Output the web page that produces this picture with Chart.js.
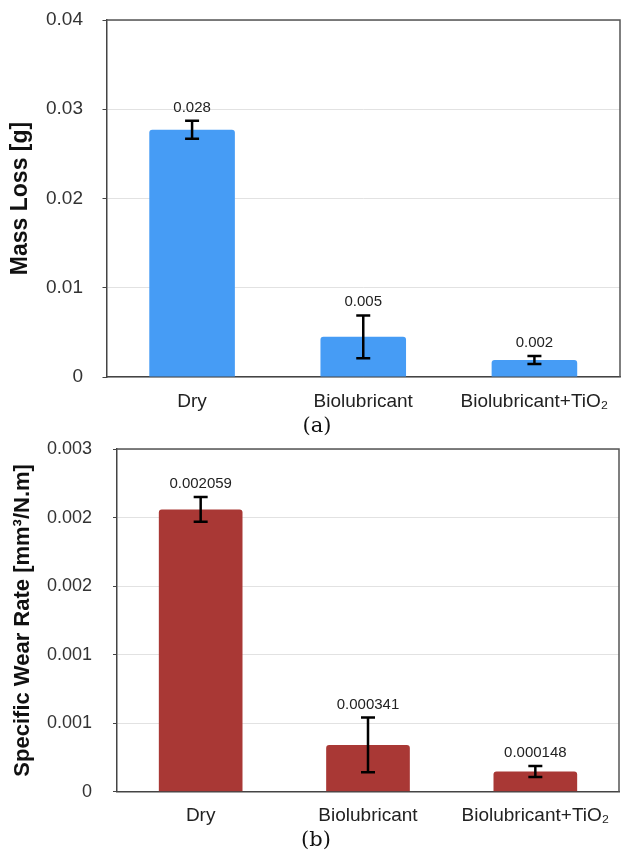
<!DOCTYPE html>
<html>
<head>
<meta charset="utf-8">
<script src="https://cdn.jsdelivr.net/npm/chart.js@4.4.0/dist/chart.umd.min.js"></script>
<style>
  html, body { margin: 0; padding: 0; background: #fff; }
  #page { position: relative; width: 622px; height: 853px; overflow: hidden; }
  .box { position: absolute; left: 0; width: 622px; height: 420px; }
  #boxA { top: 0; }
  #boxB { top: 430px; }
  .cap { position: absolute; font-family: 'DejaVu Serif', serif; font-size: 21px; color: #111; transform: translate(-50%, -50%); }
</style>
</head>
<body>
<div id="page">
  <div class="box" id="boxA"><canvas id="chartA" width="622" height="420"></canvas></div>
  <div class="box" id="boxB"><canvas id="chartB" width="622" height="420"></canvas></div>
  <div class="cap" style="left:317px;top:425px">(a)</div>
  <div class="cap" style="left:316px;top:839px">(b)</div>
</div>
<script>
const categories = ['Dry', 'Biolubricant', 'Biolubricant+TiO₂'];

// (a) mass loss
const massLoss = [0.0277, 0.0045, 0.0019];
const massLossErr = [0.001, 0.0024, 0.00045];
const massLossLabels = ['0.028', '0.005', '0.002'];
const massTicks = ['0', '0.01', '0.02', '0.03', '0.04'];

// (b) specific wear rate
const wearRate = [0.002059, 0.000341, 0.000148];
const wearRateErr = [0.00009, 0.0002, 0.00004];
const wearRateLabels = ['0.002059', '0.000341', '0.000148'];
const wearTicks = ['0', '0.001', '0.001', '0.002', '0.002', '0.003'];

const FONT = '"Liberation Sans", Arial, Helvetica, sans-serif';

// error bars, value labels and the top/right frame
const errorBars = {
  id: 'errorBars',
  afterDatasetsDraw(chart, args, opts) {
    const ctx = chart.ctx;
    const meta = chart.getDatasetMeta(0);
    const y = chart.scales.y;
    const vals = chart.data.datasets[0].data;
    const a = chart.chartArea;
    ctx.save();
    ctx.strokeStyle = '#555';
    ctx.lineWidth = 1.5;
    ctx.beginPath();
    ctx.moveTo(a.left, a.top);
    ctx.lineTo(a.right, a.top);
    ctx.lineTo(a.right, a.bottom);
    ctx.stroke();

    meta.data.forEach((bar, i) => {
      const top = y.getPixelForValue(vals[i] + opts.errors[i]);
      const bot = y.getPixelForValue(vals[i] - opts.errors[i]);
      ctx.strokeStyle = '#000';
      ctx.lineWidth = 2.5;
      ctx.beginPath();
      ctx.moveTo(bar.x, top); ctx.lineTo(bar.x, bot);
      ctx.moveTo(bar.x - 7, top); ctx.lineTo(bar.x + 7, top);
      ctx.moveTo(bar.x - 7, bot); ctx.lineTo(bar.x + 7, bot);
      ctx.stroke();
      ctx.fillStyle = '#222';
      ctx.font = '15px ' + FONT;
      ctx.textAlign = 'center';
      ctx.textBaseline = 'alphabetic';
      ctx.fillText(opts.labels[i], bar.x, top - 9);
    });
    ctx.restore();
  }
};

function makeChart(id, p) {
  return new Chart(document.getElementById(id), {
    type: 'bar',
    data: {
      labels: categories,
      datasets: [{
        data: p.values,
        backgroundColor: p.color,
        borderRadius: 3,
        borderSkipped: 'start',
        categoryPercentage: 0.5,
        barPercentage: 1
      }]
    },
    options: {
      responsive: false,
      animation: false,
      layout: { padding: p.padding },
      plugins: {
        legend: { display: false },
        tooltip: { enabled: false },
        errorBars: { errors: p.errors, labels: p.labels }
      },
      scales: {
        x: {
          grid: { display: false, drawTicks: false },
          border: { color: '#444', width: 1.5 },
          ticks: { font: { family: FONT, size: 19 }, color: '#222', padding: 13, maxRotation: 0, autoSkip: false },
          afterFit(s) { s.height = 36; s.paddingLeft = 0; s.paddingRight = 0; }
        },
        y: {
          min: 0,
          max: p.max,
          grid: { color: '#e2e2e2', tickLength: 4, tickColor: '#444' },
          border: { color: '#444', width: 1.5 },
          ticks: {
            stepSize: p.step,
            font: { family: FONT, size: p.tickSize },
            color: '#333',
            padding: p.tickPad,
            callback: (v, i) => p.ticks[i]
          },
          title: {
            display: true,
            text: p.title,
            color: '#111',
            font: { family: FONT, size: p.titleSize, weight: 'bold' },
            padding: { top: p.titlePad, bottom: 0 }
          },
          afterFit(s) { s.width = p.axisWidth; s.paddingTop = 0; s.paddingBottom = 0; }
        }
      }
    },
    plugins: [errorBars]
  });
}

makeChart('chartA', {
  values: massLoss, errors: massLossErr, labels: massLossLabels, ticks: massTicks,
  color: '#469CF5', max: 0.04, step: 0.01,
  title: 'Mass Loss [g]', titleSize: 23,
  padding: { top: 20, right: 2, bottom: 7, left: 0 },
  axisWidth: 106.5, tickPad: 19.5, tickSize: 19, titlePad: 7
});

makeChart('chartB', {
  values: wearRate, errors: wearRateErr, labels: wearRateLabels, ticks: wearTicks,
  color: '#A93835', max: 0.0025, step: 0.0005,
  title: 'Specific Wear Rate [mm³/N.m]', titleSize: 22,
  padding: { top: 19, right: 3, bottom: 22.3, left: 0 },
  axisWidth: 117, tickPad: 21, tickSize: 18, titlePad: 10
});
</script>
</body>
</html>
